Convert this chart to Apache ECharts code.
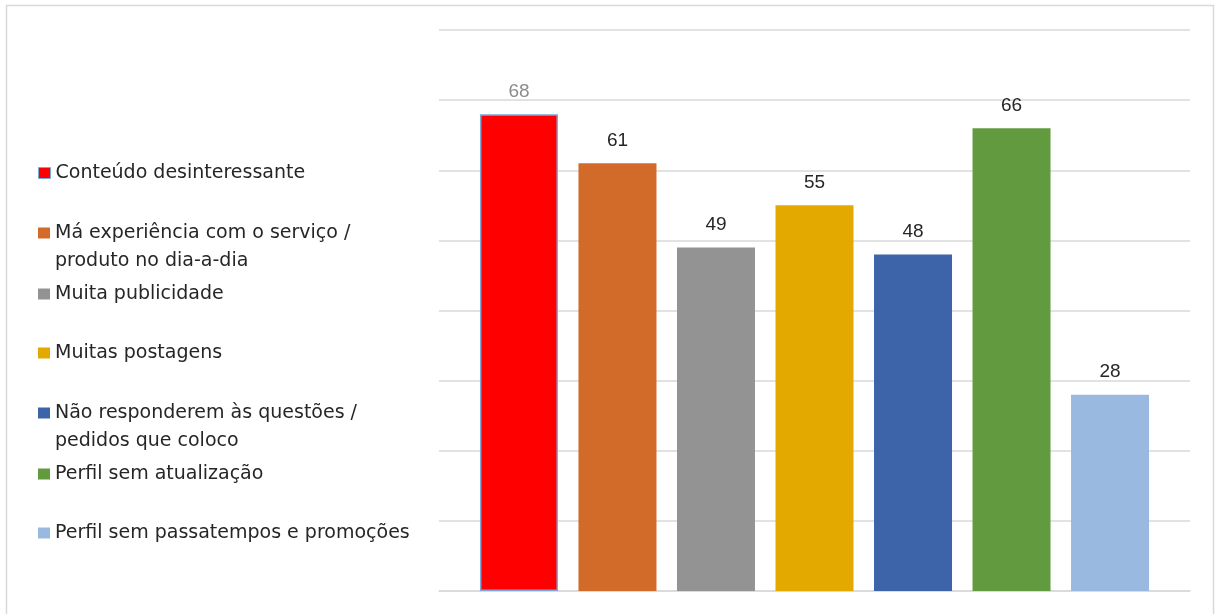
<!DOCTYPE html>
<html>
<head>
<meta charset="utf-8">
<script src="https://cdn.jsdelivr.net/npm/echarts@6/dist/echarts.min.js"></script>
<style>
html,body{margin:0;padding:0;background:#fff;}
#chart{width:1215px;height:614px;}
</style>
</head>
<body>
<div id="chart"></div>
<script>
const categories = [
  "Conteúdo desinteressante",
  "Má experiência com o serviço /\nproduto no dia-a-dia",
  "Muita publicidade",
  "Muitas postagens",
  "Não responderem às questões /\npedidos que coloco",
  "Perfil sem atualização",
  "Perfil sem passatempos e promoções"
];
const values = [68, 61, 49, 55, 48, 66, 28];
const colors = ["#FF0000", "#D26B2A", "#939393", "#E3A900", "#3D64A9", "#629B3F", "#9AB9E0"];
const legendTops = [159, 219, 280, 339, 399, 460, 519];

const LFONT = "'DejaVu Sans', sans-serif";
const FONT = "'Liberation Sans', Arial, sans-serif";
const chart = echarts.init(document.getElementById('chart'), null, {renderer: 'canvas'});

const series = categories.map((name, i) => ({
  name: name,
  type: 'bar',
  barWidth: 78,
  barGap: '26.3%',
  data: [values[i]],
  itemStyle: i === 0
    ? {color: colors[i], borderColor: '#7EA6D8', borderWidth: 1.5}
    : {color: colors[i], borderWidth: 0},
  label: {
    show: true,
    position: 'top',
    distance: 13,
    fontSize: 19,
    fontFamily: FONT,
    color: i === 0 ? '#8C8C8C' : '#262626'
  },
  emphasis: {disabled: true},
  animation: false
}));

const legends = categories.map((name, i) => {
  const twoLine = name.indexOf('\n') >= 0;
  return {
    show: true,
    left: 38,
    top: legendTops[i],
    orient: 'vertical',
    padding: 0,
    selectedMode: false,
    data: [name],
    itemWidth: 12,
    itemHeight: twoLine ? 39 : 11,
    icon: twoLine ? 'path://M0,0h12v11h-12z M0,38.99h0.01v0.01h-0.01z' : 'rect',
    itemStyle: {borderWidth: i === 0 ? 1 : 0},
    textStyle: {fontSize: 19, fontFamily: LFONT, color: '#262626', lineHeight: 28}
  };
});

chart.setOption({
  animation: false,
  backgroundColor: '#fff',
  graphic: [{
    type: 'rect',
    shape: {x: 6.5, y: 5.5, width: 1207, height: 640},
    style: {fill: 'none', stroke: '#D9D9D9', lineWidth: 1.5},
    silent: true
  }],
  legend: legends,
  grid: {left: 439, right: 25, top: 30, bottom: 23},
  xAxis: {
    type: 'category',
    data: [''],
    axisLabel: {show: false},
    axisTick: {show: false},
    axisLine: {show: true, lineStyle: {color: '#D9D9D9', width: 1.5}}
  },
  yAxis: {
    type: 'value',
    min: 0,
    max: 80,
    interval: 10,
    axisLabel: {show: false},
    axisLine: {show: false},
    axisTick: {show: false},
    splitLine: {show: true, lineStyle: {color: '#D9D9D9', width: 1.5}}
  },
  series: series
});
</script>
</body>
</html>
